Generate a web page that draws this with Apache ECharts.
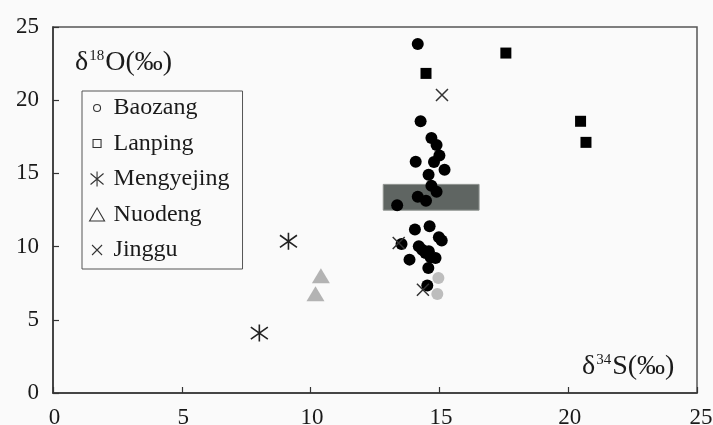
<!DOCTYPE html>
<html>
<head>
<meta charset="utf-8">
<script src="https://cdn.jsdelivr.net/npm/echarts@6/dist/echarts.min.js"></script>
<style>html,body{margin:0;padding:0;background:#fafafa;}#c{width:713px;height:425px;}</style>
</head>
<body>
<div id="c"></div>
<script>
var xTicks = [0, 5, 10, 15, 20, 25];
var yTicks = [0, 5, 10, 15, 20, 25];
var legendNames = ['Baozang', 'Lanping', 'Mengyejing', 'Nuodeng', 'Jinggu'];
var baozang = [
  [14.16,23.84],[14.27,18.56],[14.69,17.42],[14.89,16.94],[15.0,16.23],[14.08,15.8],
  [14.79,15.78],[15.2,15.25],[14.58,14.91],[14.69,14.16],[14.89,13.75],[14.16,13.4],
  [14.48,13.13],[13.36,12.83],[14.05,11.16],[14.62,11.39],[14.98,10.64],[15.09,10.41],
  [13.53,10.18],[14.2,10.02],[14.33,9.79],[14.46,9.57],[14.59,9.68],[13.84,9.11],
  [14.85,9.22],[14.66,9.27],[14.57,8.54],[14.53,7.35]
];
var baozangGray = [[14.96,7.85],[14.92,6.76]];
var lanping = [[14.48,21.83],[17.58,23.22],[20.48,18.56],[20.69,17.12]];
var mengyejing = [[9.14,10.36],[8.01,4.09]];
var nuodeng = [[10.4,8.01],[10.19,6.78]];
var jinggu = [[15.1,20.36],[13.42,10.25],[14.36,7.05]];
var boxRange = [[12.82,12.49],[16.54,14.25]];

var FONT = 'Liberation Serif';
var asteriskPath = 'path://M7,0V14M1,2L13,12M1,12L13,2';
var crossPath = 'path://M0,0L10,10M0,10L10,0';
var legendIcons = {
  Baozang: 'path://M0,0M15,15M4,7.5a3.5,3.5 0 1,0 7,0a3.5,3.5 0 1,0 -7,0',
  Lanping: 'path://M0,0M15,15M3.5,3.5h8v8h-8z',
  Mengyejing: 'path://M7.5,0V15M1,2L14,13M1,13L14,2',
  Nuodeng: 'path://M0,0M15,15M0,14L7.5,1L15,14Z',
  Jinggu: 'path://M0,0M15,15M2.5,2.5L12.5,12.5M2.5,12.5L12.5,2.5'
};
var titleRich = {
  d: { fontFamily: FONT, fontSize: 28, color: '#1a1a1a' },
  s: { fontFamily: FONT, fontSize: 15, color: '#1a1a1a', padding: [0, 1, 13, 1] }
};

var chart = echarts.init(document.getElementById('c'));
chart.setOption({
  backgroundColor: '#fafafa',
  animation: false,
  grid: { left: 53, right: 16, top: 27, bottom: 32, outerBoundsMode: 'none', containLabel: false,
          show: true, borderColor: '#555', borderWidth: 1.5, backgroundColor: 'transparent' },
  xAxis: {
    type: 'value', min: 0, max: 25, interval: 5,
    name: '{d|δ}{s|34}{d|S(‰)}', nameLocation: 'end', nameGap: -115,
    nameTextStyle: { align: 'left', verticalAlign: 'bottom', padding: [0, 0, 12, 0], rich: titleRich },
    axisLine: { lineStyle: { color: '#333', width: 1.5 } },
    axisTick: { inside: true, length: 6, lineStyle: { color: '#333', width: 1.2 } },
    axisLabel: {
      fontFamily: FONT, fontSize: 23, color: '#1a1a1a', margin: 13, customValues: xTicks,
      formatter: function (v) { return v === 25 ? '{e|25}' : '{n|' + v + '}'; },
      rich: { n: { fontFamily: FONT, fontSize: 23, color: '#1a1a1a', padding: [0, 0, 0, 3] },
              e: { fontFamily: FONT, fontSize: 23, color: '#1a1a1a', padding: [0, 0, 0, 8] } }
    },
    splitLine: { show: false }
  },
  yAxis: {
    type: 'value', min: 0, max: 25, interval: 5,
    name: '{d|δ}{s|18}{d|O(‰)}', nameLocation: 'end', nameGap: -50,
    nameTextStyle: { align: 'left', verticalAlign: 'bottom', padding: [0, 0, 0, 22], rich: titleRich },
    axisLine: { lineStyle: { color: '#333', width: 1.5 } },
    axisTick: { inside: true, length: 6, lineStyle: { color: '#333', width: 1.2 } },
    axisLabel: { fontFamily: FONT, fontSize: 23, color: '#1a1a1a', margin: 14, customValues: yTicks },
    splitLine: { show: false }
  },
  legend: {
    orient: 'vertical', left: 82, top: 91,
    padding: [5, 13, 7, 7],
    borderColor: '#555', borderWidth: 1,
    itemWidth: 15, itemHeight: 15, itemGap: 11.5,
    textStyle: { fontFamily: FONT, fontSize: 24, color: '#1a1a1a', lineHeight: 24, padding: [0, 0, 0, 4] },
    data: legendNames.map(function (n) {
      return { name: n, icon: legendIcons[n], itemStyle: { color: 'rgba(0,0,0,0)', borderColor: '#333', borderWidth: 1.1 } };
    })
  },
  series: [
    {
      name: 'Box', type: 'scatter', data: [], silent: true,
      markArea: { silent: true, itemStyle: { color: '#5f6562', borderColor: '#8d918e', borderWidth: 1 },
        data: [[{ coord: boxRange[0] }, { coord: boxRange[1] }]] }
    },
    { name: 'BaozangGray', type: 'scatter', symbol: 'circle', symbolSize: 12, itemStyle: { color: '#bdbdbd', opacity: 1 }, data: baozangGray },
    { name: 'Nuodeng', type: 'scatter', symbol: 'triangle', symbolSize: [18, 15], itemStyle: { color: '#b3b3b3', opacity: 1 }, data: nuodeng },
    { name: 'Baozang', type: 'scatter', symbol: 'circle', symbolSize: 12, itemStyle: { color: '#000', opacity: 1 }, data: baozang },
    { name: 'Lanping', type: 'scatter', symbol: 'rect', symbolSize: 11, itemStyle: { color: '#000', opacity: 1 }, data: lanping },
    { name: 'Mengyejing', type: 'scatter', symbol: asteriskPath, symbolSize: [17, 17], itemStyle: { color: 'rgba(0,0,0,0)', borderColor: '#222', borderWidth: 1.6, opacity: 1 }, data: mengyejing },
    { name: 'Jinggu', type: 'scatter', symbol: crossPath, symbolSize: 12, itemStyle: { color: 'rgba(0,0,0,0)', borderColor: '#333', borderWidth: 1.5, opacity: 1 }, data: jinggu }
  ]
});
</script>
</body>
</html>
